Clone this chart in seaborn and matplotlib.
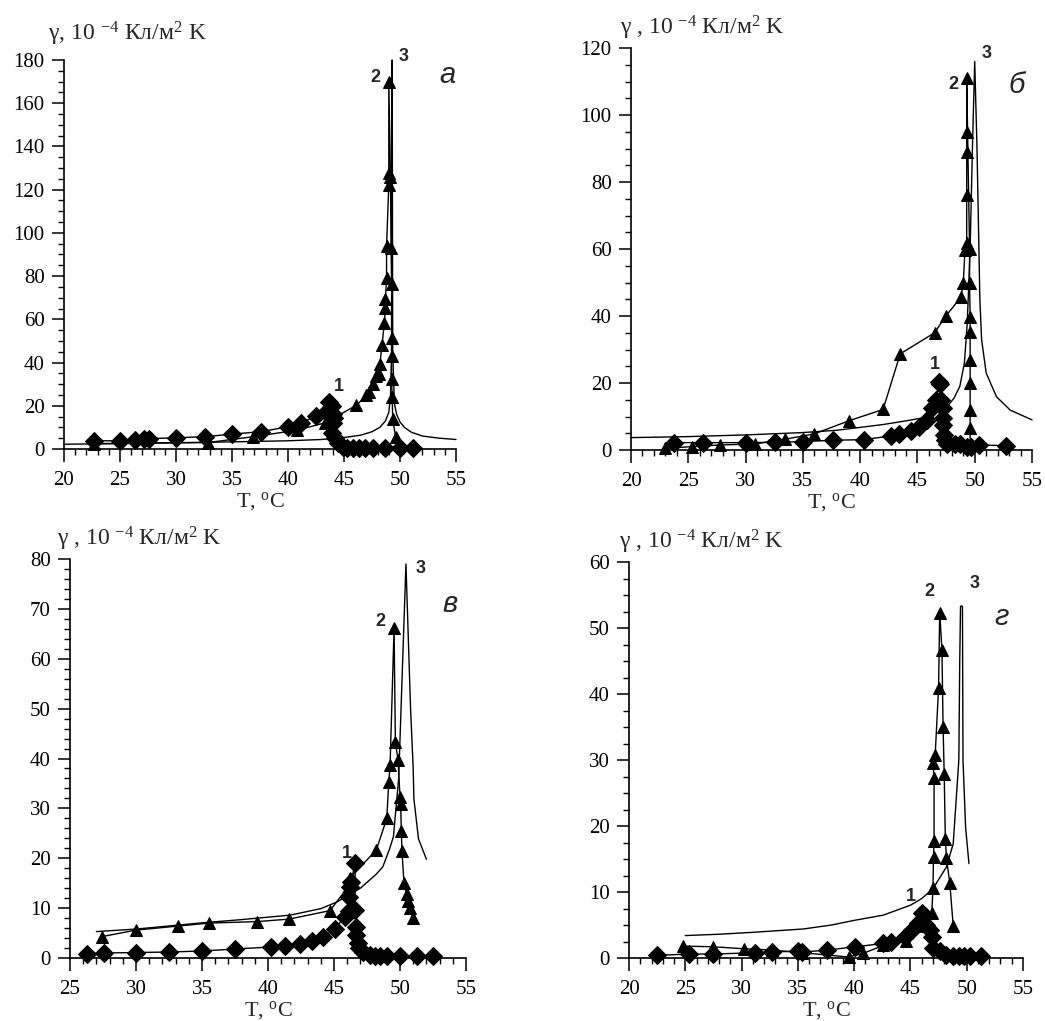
import matplotlib
matplotlib.use("Agg")
import matplotlib.pyplot as plt
import seaborn as sns
from matplotlib.ticker import MultipleLocator

# ---------------- data ----------------
# panel а
a_T1 = [22.7, 25.0, 26.3, 27.1, 27.6, 30.0, 32.6, 35.0, 37.6, 40.0, 41.2, 42.5, 43.4, 43.7, 43.9, 44.0, 44.1, 44.0, 43.9, 44.2, 44.5, 44.9, 45.3, 45.8, 46.3, 46.9, 47.6, 48.7, 50.0, 51.2]
a_g1 = [3.8, 3.8, 4.1, 4.4, 4.8, 5.2, 5.7, 6.9, 8.0, 10.3, 12.1, 15.3, 17.2, 21.8, 19.8, 16.4, 14.2, 11.8, 7.3, 4.9, 2.6, 1.1, 0.4, 0.3, 0.6, 0.5, 0.5, 0.4, 0.3, 0.5]
a_T2 = [22.7, 32.9, 36.9, 40.8, 43.3, 46.1, 47.0, 47.2, 47.6, 47.9, 48.1, 48.2, 48.4, 48.6, 48.7, 48.7, 48.8, 48.8, 49.0, 49.0, 49.0, 49.15, 49.2, 49.25, 49.25, 49.25, 49.25, 49.3, 49.35, 49.6]
a_g2 = [2.5, 3.0, 5.7, 8.7, 12.1, 20.2, 24.8, 26.4, 30.2, 33.6, 34.8, 39.4, 48.1, 58.5, 65.1, 69.3, 79.2, 94.1, 122.2, 127.6, 170.0, 126.0, 93.0, 76.2, 51.3, 43.2, 32.5, 24.1, 14.1, 5.7]
a_T3 = [20, 25, 30, 35, 40, 43, 45, 46.5, 47.5, 48.2, 48.7, 49.0, 49.15, 49.25, 49.3, 49.35, 49.5, 49.7, 50.0, 50.4, 51.0, 52.0, 53.5, 55]
a_g3 = [2.2, 2.5, 2.9, 3.3, 3.8, 4.4, 5.3, 6.4, 8.0, 10.0, 13.0, 17.0, 24.0, 45.0, 180.0, 45.0, 21.0, 16.0, 12.5, 10.0, 7.8, 6.0, 5.0, 4.4]

# panel б
b_T1 = [23.75, 26.3, 30.0, 32.6, 35.0, 37.6, 40.3, 42.7, 43.4, 44.4, 45.1, 45.8, 46.3, 46.6, 46.9, 47.0, 47.05, 47.2, 47.2, 47.25, 47.3, 47.4, 47.6, 48.3, 48.7, 49.3, 49.7, 50.4, 52.7]
b_g1 = [2.2, 2.2, 2.2, 2.3, 2.5, 2.9, 3.1, 4.2, 4.7, 5.6, 6.8, 9.1, 12.5, 15.0, 20.3, 19.8, 15.0, 12.4, 9.5, 7.5, 4.5, 3.0, 1.8, 1.8, 1.8, 1.0, 1.0, 1.5, 1.3]
b_T2 = [23.0, 25.3, 27.8, 30.8, 33.4, 36.0, 39.0, 42.0, 43.5, 46.5, 47.5, 48.8, 49.0, 49.15, 49.3, 49.3, 49.3, 49.3, 49.3, 49.55, 49.55, 49.6, 49.6, 49.6, 49.6, 49.6, 49.6, 49.6]
b_g2 = [0.5, 1.0, 1.5, 1.8, 3.2, 4.8, 8.7, 12.1, 28.7, 35.0, 40.1, 45.6, 49.8, 59.7, 61.7, 76.1, 89.0, 95.0, 110.9, 60.0, 49.8, 39.8, 35.3, 26.9, 19.9, 11.9, 6.5, 1.5]
b_T3 = [20, 25, 30, 35, 38, 42, 44, 45.5, 46.6, 47.6, 48.2, 48.7, 49.1, 49.35, 49.6, 49.8, 50.0, 50.2, 50.45, 50.6, 51.0, 51.9, 53.1, 55]
b_g3 = [3.7, 4.0, 4.5, 5.2, 5.9, 7.6, 8.7, 9.6, 11.2, 13.0, 15.5, 19.0, 26.0, 38.0, 60.0, 90.0, 116.0, 90.0, 45.0, 33.0, 23.0, 15.9, 11.9, 9.0]

# panel в
c_T1 = [26.3, 27.6, 30.0, 32.5, 35.0, 37.5, 40.2, 41.3, 42.4, 43.3, 44.2, 45.1, 45.8, 46.1, 46.1, 46.2, 46.3, 46.6, 46.6, 46.7, 46.7, 46.8, 46.9, 47.2, 47.7, 48.1, 48.5, 49.0, 50.0, 51.3, 52.5]
c_g1 = [0.9, 1.0, 1.1, 1.2, 1.4, 1.8, 2.2, 2.5, 2.9, 3.5, 4.2, 5.9, 8.3, 9.5, 12.3, 14.3, 15.3, 19.0, 9.6, 6.3, 4.6, 3.0, 2.0, 1.2, 0.6, 0.5, 0.5, 0.5, 0.4, 0.4, 0.4]
c_T2 = [27.45, 30.0, 33.2, 35.5, 39.2, 41.6, 44.7, 46.1, 46.2, 48.2, 49.0, 49.15, 49.25, 49.55, 49.65, 49.85, 50.0, 50.05, 50.1, 50.15, 50.3, 50.5, 50.6, 50.75, 51.0]
c_g2 = [4.3, 5.6, 6.4, 7.0, 7.3, 7.8, 9.5, 14.4, 16.1, 21.6, 28.0, 35.3, 38.7, 66.1, 43.3, 39.7, 32.3, 30.9, 25.5, 21.4, 15.0, 12.8, 11.5, 10.0, 8.0]
c_T3 = [27.0, 30, 34.8, 38, 41.7, 44, 45.2, 47.0, 48.2, 48.7, 49.2, 49.5, 49.9, 50.45, 50.8, 51.0, 51.05, 51.4, 52.0]
c_g3 = [5.3, 5.8, 7.0, 7.7, 8.6, 9.9, 11.2, 14.0, 16.8, 18.3, 21.8, 24.3, 36.0, 79.0, 50.0, 38.0, 32.0, 23.9, 19.8]

# panel г
d_T1 = [22.5, 25.3, 27.5, 31.2, 32.7, 35.0, 35.4, 37.6, 40.1, 42.6, 43.3, 44.5, 45.1, 45.7, 46.0, 46.3, 46.4, 46.7, 46.9, 47.0, 47.6, 48.2, 48.8, 49.3, 49.8, 50.3, 51.3]
d_g1 = [0.4, 0.6, 0.6, 0.8, 0.9, 1.05, 0.9, 1.2, 1.7, 2.2, 2.5, 3.2, 4.2, 5.3, 6.8, 6.3, 5.0, 4.2, 3.2, 1.5, 1.0, 0.5, 0.3, 0.3, 0.3, 0.3, 0.3]
d_T2 = [24.8, 27.5, 30.2, 32.7, 35.4, 39.5, 40.8, 42.6, 44.6, 46.4, 46.9, 47.0, 47.05, 47.1, 47.1, 47.0, 47.2, 47.5, 47.6, 47.8, 47.9, 48.0, 48.1, 48.2, 48.5, 48.8]
d_g2 = [1.8, 1.7, 1.4, 1.2, 0.8, 0.15, 0.7, 1.9, 2.6, 4.9, 6.8, 10.6, 15.3, 17.8, 27.2, 29.5, 30.8, 40.9, 52.3, 46.7, 35.0, 27.9, 18.1, 15.1, 11.3, 4.9]
d_T3 = [25.0, 28, 31.1, 35.5, 38, 40.0, 42.6, 45.0, 46.0, 47.0, 48.2, 48.8, 49.1, 49.3, 49.38, 49.45, 49.62, 49.67, 49.9, 50.2]
d_g3 = [3.4, 3.6, 3.9, 4.4, 5.0, 5.7, 6.5, 8.0, 9.0, 10.5, 13.8, 17.3, 24.9, 30.0, 45.0, 53.3, 53.3, 30.0, 19.8, 14.3]

panel_letters = ["а", "б", "в", "г"]
curve_labels = ["1", "2", "3"]

# ---------------- style ----------------
sns.set_style("ticks")
plt.rcParams["font.family"] = ["Liberation Serif", "DejaVu Serif"]
plt.rcParams["mathtext.fontset"] = "custom"
plt.rcParams["mathtext.rm"] = "Liberation Serif"
plt.rcParams["mathtext.it"] = "Liberation Serif:italic"
plt.rcParams["mathtext.bf"] = "Liberation Serif:bold"

W, H = 1045, 1021
fig = plt.figure(figsize=(W / 100, H / 100), dpi=100)


def add_axes_px(x0, x1, y_top, y_bot):
    return fig.add_axes([x0 / W, (H - y_bot) / H, (x1 - x0) / W, (y_bot - y_top) / H])


def draw(ax, T1, g1, T2, g2, T3, g3, xlim, ylim, ymaj, ymin, ylab, ylab_xy,
         lab_pos, letter, letter_pos):
    sns.lineplot(x=T3, y=g3, ax=ax, sort=False, estimator=None, errorbar=None,
                 color="black", linewidth=1.0, clip_on=False)
    sns.lineplot(x=T2, y=g2, ax=ax, sort=False, estimator=None, errorbar=None,
                 color="black", linewidth=1.0, marker="^", markersize=9,
                 markeredgecolor="black", markerfacecolor="black", clip_on=False)
    sns.lineplot(x=T1, y=g1, ax=ax, sort=False, estimator=None, errorbar=None,
                 color="black", linewidth=1.0, marker="D", markersize=9,
                 markeredgecolor="black", markerfacecolor="black", clip_on=False)
    ax.set_xlim(*xlim)
    ax.set_ylim(*ylim)
    ax.xaxis.set_major_locator(MultipleLocator(5))
    ax.xaxis.set_minor_locator(MultipleLocator(1))
    ax.yaxis.set_major_locator(MultipleLocator(ymaj))
    ax.yaxis.set_minor_locator(MultipleLocator(ymin))
    for s in ["top", "right"]:
        ax.spines[s].set_visible(False)
    for s in ["left", "bottom"]:
        ax.spines[s].set_linewidth(1.2)
        ax.spines[s].set_color("black")
    ax.tick_params(which="major", direction="out", length=9, width=1.1,
                   labelsize=15, colors="black")
    ax.tick_params(axis="x", which="major", pad=7)
    ax.tick_params(axis="y", which="major", pad=5)
    ax.tick_params(which="minor", direction="out", length=4.5, width=1.0, colors="black")
    ax.set_xlabel("T, $^{\\mathrm{o}}$C", fontsize=16, labelpad=0)
    ax.set_ylabel("")
    ax.text(ylab_xy[0], ylab_xy[1], ylab, transform=ax.transAxes,
            fontsize=17, ha="left", va="bottom")
    for lbl, (x, y) in zip(curve_labels, lab_pos):
        ax.text(x, y, lbl, fontsize=13, fontweight="bold",
                family=["Liberation Sans"], ha="center", va="center")
    ax.text(letter_pos[0], letter_pos[1], letter, fontsize=21, style="italic",
            family=["Liberation Sans"], ha="center", va="center")


ax_a = add_axes_px(64, 456, 60, 449)
ax_b = add_axes_px(631, 1032, 48, 450)
ax_c = add_axes_px(70, 466, 559, 958)
ax_d = add_axes_px(629, 1023, 562, 958)

lab1 = "γ, 10 $^{\\mathrm{-4}}$ Кл/м$^{\\mathrm{2}}$ K"
lab2 = "γ , 10 $^{\\mathrm{-4}}$ Кл/м$^{\\mathrm{2}}$ K"

draw(ax_a, a_T1, a_g1, a_T2, a_g2, a_T3, a_g3, (20, 55), (0, 180), 20, 5,
     lab1, (-0.04, 1.03), [(44.5, 28.8), (47.8, 172), (50.3, 181.5)],
     panel_letters[0], (54.2, 173))
draw(ax_b, b_T1, b_g1, b_T2, b_g2, b_T3, b_g3, (20, 55), (0, 120), 20, 5,
     lab2, (-0.027, 1.015), [(46.5, 25.4), (48.1, 109), (51.0, 118.4)],
     panel_letters[1], (53.7, 109))
draw(ax_c, c_T1, c_g1, c_T2, c_g2, c_T3, c_g3, (25, 55), (0, 80), 10, 2,
     lab2, (-0.033, 1.015), [(46.0, 21.0), (48.5, 67.4), (51.6, 78.1)],
     panel_letters[2], (53.8, 71))
draw(ax_d, d_T1, d_g1, d_T2, d_g2, d_T3, d_g3, (20, 55), (0, 60), 10, 2.5,
     lab2, (-0.025, 1.015), [(45.0, 9.3), (46.7, 55.5), (50.7, 56.8)],
     panel_letters[3], (53.1, 51.7))

fig.savefig("out.png", dpi=100)
